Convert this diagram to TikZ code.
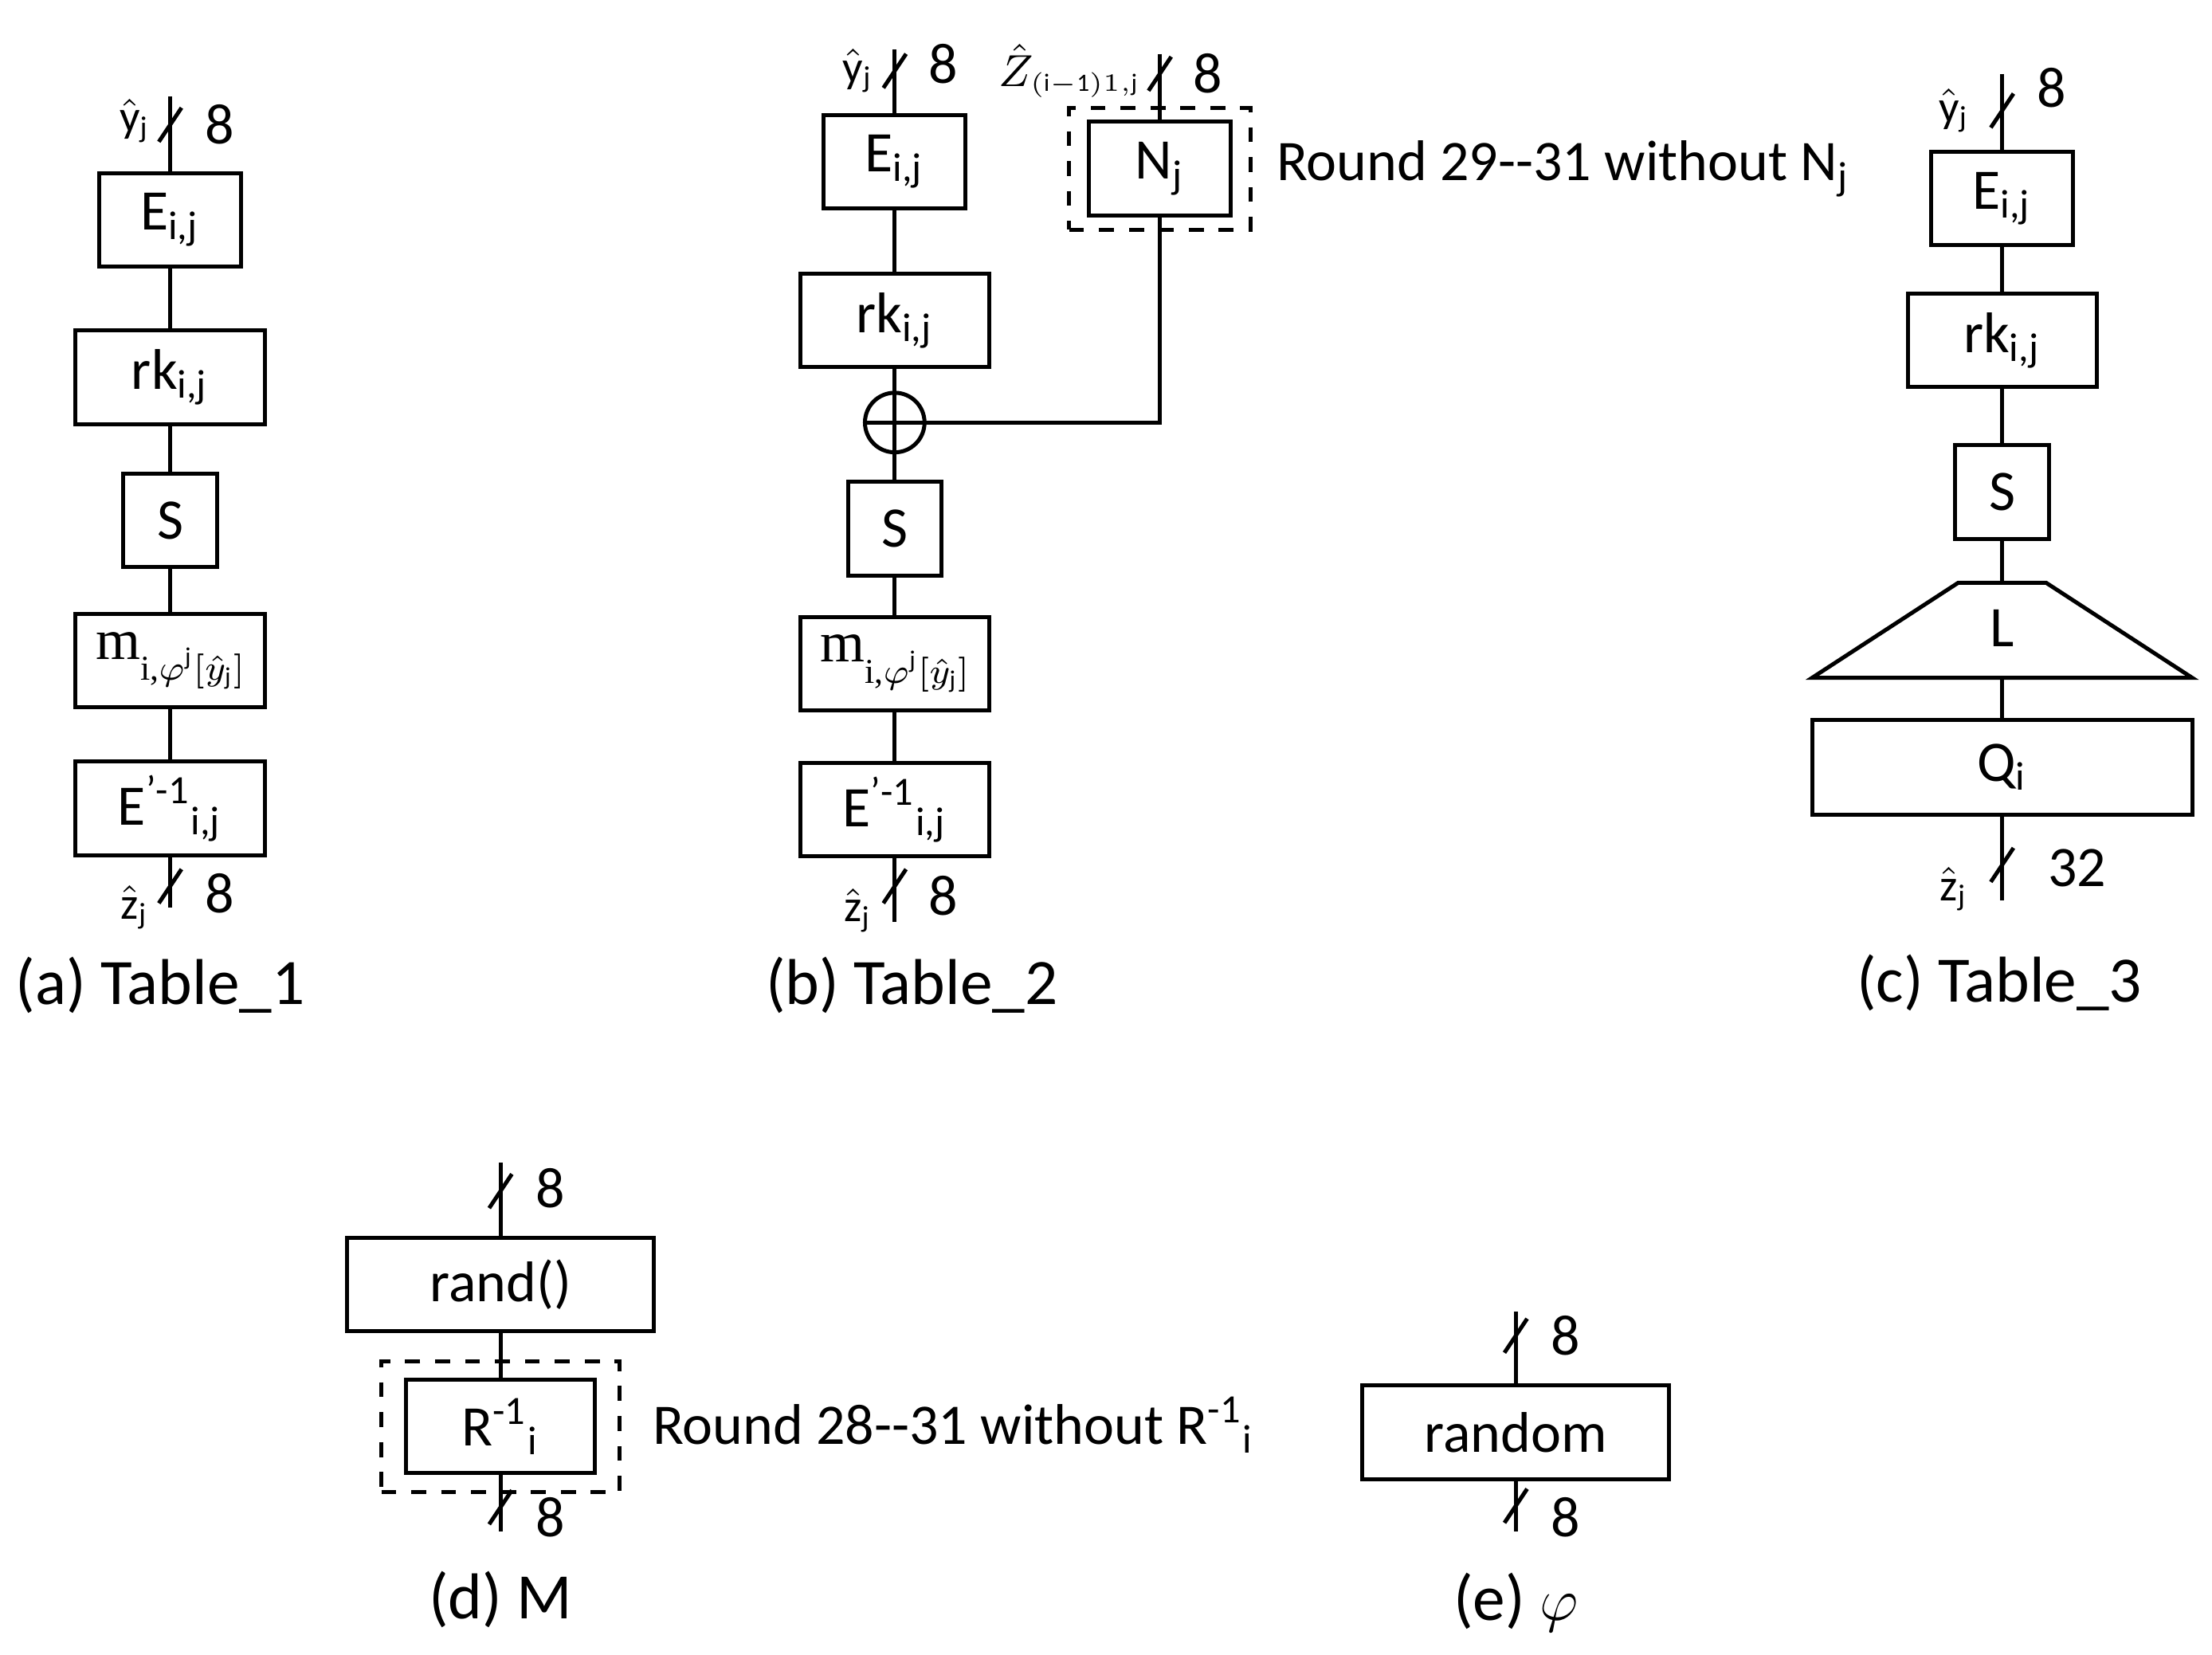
\documentclass[tikz,border=0pt]{standalone}
\usepackage{fontspec}
\setmainfont{Carlito}
\newfontfamily\tms{Liberation Serif}
\usetikzlibrary{shapes.geometric}
\begin{document}
\begin{tikzpicture}[x=0.01cm,y=-0.01cm,
  every node/.style={font=\fontsize{11.5}{13}\selectfont},
  bx/.style={draw,thick,minimum height=0.66cm,inner sep=0pt},
  dsh/.style={draw,thick,dashed,inner sep=0pt},
  ln/.style={thick},
  sm/.style={font=\tms\fontsize{9}{11}\selectfont},
  capt/.style={font=\fontsize{13}{15}\selectfont}]
\useasboundingbox (0,0) rectangle (1560,1167);
\newcommand{\slsh}[2]{\draw[thick] (#1-8,#2+12) -- (#1+8,#2-12);}
\newcommand{\mlab}{\tms m\raisebox{-0.8ex}{\fontsize{7}{8}\selectfont i,$\varphi^{\mathrm{j}}[\hat y_{\mathrm j}]$}}
% (a)
\coordinate (at) at (120,68); \coordinate (ab) at (120,640);
\node[bx,minimum width=1.0cm] (a1) at (120,155) {E\textsubscript{i,j}};
\node[bx,minimum width=1.34cm] (a2) at (120,266) {rk\textsubscript{i,j}};
\node[bx,minimum width=0.66cm] (a3) at (120,367) {S};
\node[bx,minimum width=1.34cm] (a4) at (120,466) {\mlab};
\node[bx,minimum width=1.34cm] (a5) at (120,570) {E\textsuperscript{'-1}\textsubscript{i,j}};
\draw[ln] (at)--(a1) (a1)--(a2) (a2)--(a3) (a3)--(a4) (a4)--(a5) (a5)--(ab);
\slsh{120}{88}\slsh{120}{625}
\node[sm] (a6) at (95,85) {$\hat{\mathrm y}_{\mathrm j}$};
\node (a7) at (155,88) {8};
\node[sm] (a8) at (95,640) {$\hat{\mathrm z}_{\mathrm j}$};
\node (a9) at (155,630) {8};
\node[capt] (ac) at (113,695) {(a) Table\_1};
% (b)
\coordinate (bt) at (631,35); \coordinate (bb) at (631,650);
\node[bx,minimum width=1.0cm] (b1) at (631,114) {E\textsubscript{i,j}};
\node[bx,minimum width=1.33cm] (b2) at (631,226) {rk\textsubscript{i,j}};
\node[draw,thick,circle,minimum size=0.42cm,inner sep=0pt] (bx) at (631,298) {};
\draw[thick] (bx.north)--(bx.south) (bx.west)--(bx.east);
\node[bx,minimum width=0.66cm] (b3) at (631,373) {S};
\node[bx,minimum width=1.33cm] (b4) at (631,468) {\mlab};
\node[bx,minimum width=1.33cm] (b5) at (631,571) {E\textsuperscript{'-1}\textsubscript{i,j}};
\draw[ln] (bt)--(b1) (b1)--(b2) (b2)--(bx) (bx)--(b3) (b3)--(b4) (b4)--(b5) (b5)--(bb);
\node[bx,minimum width=1.0cm] (bn) at (818,119) {N\textsubscript{j}};
\node[dsh,minimum width=1.28cm,minimum height=0.86cm] (bd) at (818,119) {};
\coordinate (bnt) at (818,38); \coordinate (bc) at (818,298);
\draw[ln] (bnt)--(bn) (bn)--(bc)--(bx);
\slsh{631}{50}\slsh{818}{52}\slsh{631}{625}
\node[sm] (b6) at (605,50) {$\hat{\mathrm y}_{\mathrm j}$};
\node (b7) at (665,45) {8};
\node[sm,anchor=east,inner sep=1pt] (b8) at (808,50) {$\hat{Z}_{\scriptscriptstyle(\mathrm{i-1})1,\mathrm{j}}$};
\node (b9) at (852,52) {8};
\node[anchor=west] (b10) at (888,119) {Round 29-{}-31 without N\textsubscript{j}};
\node[sm] (b11) at (605,642) {$\hat{\mathrm z}_{\mathrm j}$};
\node (b12) at (665,632) {8};
\node[capt] (bcap) at (643,695) {(b) Table\_2};
% (c)
\coordinate (ct) at (1412,52); \coordinate (cb) at (1412,635);
\node[bx,minimum width=1.0cm] (c1) at (1412,140) {E\textsubscript{i,j}};
\node[bx,minimum width=1.33cm] (c2) at (1412,240) {rk\textsubscript{i,j}};
\node[bx,minimum width=0.66cm] (c3) at (1412,347) {S};
\draw[thick] (1381,411)--(1443,411)--(1546,478)--(1278,478)--cycle;
\node (cL) at (1412,443) {L};
\coordinate (ctt) at (1412,411); \coordinate (ctb) at (1412,478);
\node[bx,minimum width=2.68cm,minimum height=0.67cm] (c4) at (1412,541) {Q\textsubscript{i}};
\draw[ln] (ct)--(c1) (c1)--(c2) (c2)--(c3) (c3)--(ctt) (ctb)--(c4) (c4)--(cb);
\slsh{1412}{78}\slsh{1412}{610}
\node[sm] (c6) at (1378,78) {$\hat{\mathrm y}_{\mathrm j}$};
\node (c7) at (1447,62) {8};
\node[sm] (c8) at (1378,627) {$\hat{\mathrm z}_{\mathrm j}$};
\node (c9) at (1465,612) {32};
\node[capt] (ccap) at (1410,693) {(c) Table\_3};
% (d)
\coordinate (dt) at (353,820); \coordinate (db) at (353,1080);
\node[bx,minimum width=2.16cm] (d1) at (353,906) {rand()};
\node[bx,minimum width=1.33cm] (d2) at (353,1006) {R\textsuperscript{-1}\textsubscript{i}};
\node[dsh,minimum width=1.68cm,minimum height=0.92cm] (dd) at (353,1006) {};
\draw[ln] (dt)--(d1) (d1)--(d2) (d2)--(db);
\slsh{353}{840}\slsh{353}{1063}
\node (d3) at (388,838) {8};
\node (d4) at (388,1070) {8};
\node[anchor=west] (d5) at (448,1005) {Round 28-{}-31 without R\textsuperscript{-1}\textsubscript{i}};
\node[capt] (dcap) at (353,1128) {(d) M};
% (e)
\coordinate (et) at (1069,925); \coordinate (eb) at (1069,1080);
\node[bx,minimum width=2.16cm] (e1) at (1069,1010) {random};
\draw[ln] (et)--(e1) (e1)--(eb);
\slsh{1069}{942}\slsh{1069}{1062}
\node (e3) at (1104,942) {8};
\node (e4) at (1104,1070) {8};
\node[capt] (ecap) at (1069,1130) {(e) \tms$\varphi$};
\end{tikzpicture}
\end{document}
